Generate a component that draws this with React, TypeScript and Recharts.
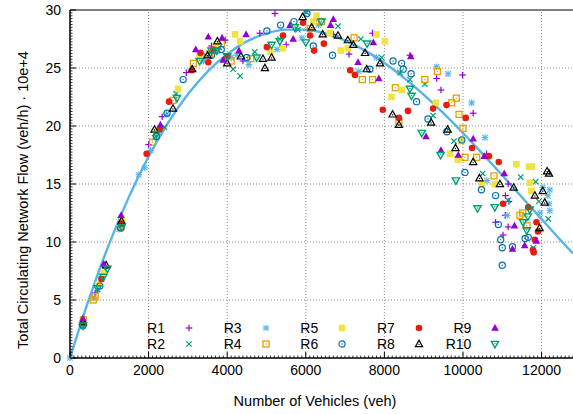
import { ComposedChart, Scatter, Line, XAxis, YAxis, ReferenceLine, Legend } from 'recharts';

type P = [number, number];

const xMajor = [0, 2000, 4000, 6000, 8000, 10000, 12000];
const yMajor = [0, 5, 10, 15, 20, 25, 30];
const xMinor = Array.from({ length: 129 }, (_, i) => i * 100);
const yMinor = Array.from({ length: 121 }, (_, i) => i * 0.25);

// number of vehicles -> flow (10e+4 veh/h)
const r1: P[] = [[330, 3.1], [640, 5.6], [820, 7.0], [1280, 11.5], [2000, 18.4], [2345, 20.8], [2960, 24.6], [3350, 25.8], [3600, 26.9], [3950, 27.4], [4400, 25.6], [4830, 28.0], [5215, 29.7], [5500, 27.0], [6280, 29.3], [6700, 27.9], [7100, 26.2], [7700, 28.0], [8650, 26.1], [9330, 24.1], [9440, 23.1], [9990, 24.4], [10260, 21.1], [10600, 17.6], [11080, 14.0], [11150, 15.0], [11170, 13.5], [10830, 11.7], [11080, 12.3], [11150, 11.3], [11020, 10.6]];
const r2: P[] = [[350, 2.9], [700, 5.9], [800, 6.8], [900, 7.6], [1320, 11.4], [2150, 19.0], [2400, 19.9], [2700, 22.8], [3450, 26.1], [3800, 26.8], [4150, 24.9], [4330, 24.3], [4700, 26.4], [5340, 27.5], [5800, 28.3], [6020, 29.8], [6820, 28.6], [7400, 27.5], [7930, 25.9], [8400, 24.6], [8650, 24.0], [9030, 23.6], [9240, 20.9], [9770, 18.7], [10500, 15.9], [11150, 13.6], [11470, 15.6], [11850, 15.2], [11930, 13.5], [12170, 12.0], [11790, 9.5]];
const r3: P[] = [[0, 0], [320, 2.7], [610, 5.2], [1250, 11.1], [1750, 15.8], [1900, 16.4], [2050, 17.9], [2460, 21.0], [3400, 25.6], [3750, 26.4], [4100, 25.9], [4250, 26.1], [4550, 25.3], [5270, 26.6], [5900, 27.6], [6320, 28.7], [7350, 24.7], [7800, 25.9], [9330, 25.1], [9620, 24.5], [10220, 22.0], [10560, 19.0], [10610, 15.3], [11120, 12.3], [11960, 12.5], [12030, 14.7], [12160, 14.0], [12210, 12.7], [12190, 13.3], [12210, 14.5]];
const r4: P[] = [[340, 3.3], [590, 5.0], [640, 5.3], [1300, 11.3], [2100, 18.6], [2620, 22.2], [3140, 25.4], [3550, 26.2], [3850, 27.1], [4100, 25.6], [4600, 25.8], [6110, 28.4], [6400, 29.0], [7230, 27.6], [7440, 24.0], [7700, 24.0], [8280, 23.3], [8370, 20.4], [9030, 24.0], [9350, 24.7], [9710, 22.0], [9830, 22.4], [9900, 21.0], [10000, 19.8], [10050, 17.3], [10350, 17.3], [10790, 15.7], [11450, 12.3], [11520, 12.5], [11630, 11.4]];
const r5: P[] = [[350, 3.0], [720, 6.3], [860, 7.3], [1330, 11.8], [2200, 19.6], [2750, 23.2], [3300, 25.9], [3700, 26.9], [4200, 27.9], [4330, 27.3], [5100, 26.4], [5420, 26.7], [6190, 29.0], [6275, 29.5], [6610, 28.0], [6890, 26.5], [7070, 26.7], [7800, 27.9], [8010, 27.3], [8180, 22.5], [8440, 23.1], [9310, 22.0], [9670, 17.6], [9870, 17.1], [9960, 18.7], [10480, 15.0], [10810, 15.0], [11360, 16.7], [11680, 16.5], [11760, 16.5], [11700, 15.1], [11740, 14.4]];
const r6: P[] = [[330, 2.8], [760, 6.2], [1290, 11.2], [2200, 19.1], [2470, 21.1], [2880, 24.0], [3600, 26.1], [3850, 26.6], [4500, 25.9], [5010, 28.2], [5360, 28.7], [5700, 29.0], [6030, 29.7], [6190, 26.9], [6680, 26.1], [7630, 24.9], [8220, 25.6], [8440, 25.4], [8480, 24.9], [8680, 24.5], [8820, 22.1], [9110, 20.6], [9590, 19.5], [9970, 18.8], [10050, 16.0], [10470, 14.5], [10830, 14.0], [10900, 11.5], [10960, 10.2], [11000, 9.5], [11000, 8.0], [11260, 9.6], [11580, 10.3], [11660, 10.4]];
const r7: P[] = [[335, 3.0], [800, 6.8], [1300, 11.6], [1950, 17.6], [2280, 19.7], [2520, 22.1], [3100, 24.8], [3320, 26.3], [3520, 25.5], [3650, 26.6], [4000, 26.0], [5010, 26.8], [5420, 27.8], [5930, 28.9], [6110, 27.8], [6210, 26.5], [6460, 27.1], [7130, 24.8], [7250, 24.4], [7960, 21.4], [8370, 20.7], [8600, 21.3], [9240, 21.5], [9580, 21.8], [10070, 20.7], [10230, 18.1], [10660, 17.4], [10910, 16.9], [11020, 13.3], [11660, 13.0], [11870, 11.7], [11910, 10.9], [11830, 10.2], [11800, 9.1], [11780, 9.3]];
const r8: P[] = [[330, 3.1], [920, 8.0], [1310, 11.8], [2150, 19.7], [2620, 21.5], [3110, 24.9], [3500, 26.1], [3750, 27.3], [4000, 25.4], [4350, 26.0], [4910, 25.8], [4960, 25.0], [5130, 25.9], [5920, 29.4], [6150, 28.5], [6430, 27.9], [6820, 27.8], [7070, 27.4], [7210, 27.0], [7510, 26.3], [7550, 24.9], [7890, 25.4], [8210, 21.0], [8370, 20.1], [9190, 20.3], [9610, 19.7], [9810, 18.1], [10260, 16.9], [10420, 15.5], [10940, 15.0], [11290, 14.7], [11830, 14.0], [12030, 14.4], [12080, 13.4], [12140, 16.1], [12190, 15.9], [11950, 11.2]];
const r9: P[] = [[330, 3.4], [860, 8.1], [1300, 12.3], [2300, 20.1], [3200, 26.6], [3520, 27.7], [3870, 27.6], [3900, 25.7], [4300, 26.5], [4480, 27.9], [5600, 28.7], [5680, 27.5], [6630, 28.7], [6700, 29.2], [7330, 25.5], [7720, 27.2], [7860, 24.1], [8670, 26.0], [9060, 19.1], [9440, 17.9], [9880, 17.5], [10260, 18.9], [10540, 17.4], [11050, 15.9], [11310, 11.4], [11870, 10.1], [11260, 9.4], [11570, 9.7]];
const r10: P[] = [[330, 2.8], [700, 6.0], [850, 7.0], [950, 7.7], [1320, 11.3], [2200, 19.3], [2720, 22.4], [3300, 25.6], [3600, 26.5], [3730, 26.5], [4000, 26.0], [4750, 25.9], [5130, 27.0], [5340, 27.3], [5720, 28.5], [6000, 27.2], [6400, 29.0], [7560, 27.1], [8650, 23.2], [8690, 22.6], [8950, 19.4], [9430, 17.5], [9820, 15.3], [10370, 12.9], [10810, 13.0], [11530, 11.7], [11620, 11.0], [11700, 12.8], [11650, 12.2]];

// fitted curve
const fitVeh = [0, 500, 1000, 1500, 2000, 2500, 3000, 3500, 4000, 4500, 5000, 5500, 6000, 6500, 7000, 7500, 8000, 8500, 9000, 9500, 10000, 10500, 11000, 11500, 12000, 12500, 12800];
const fitFlow = [0, 5.24, 9.86, 13.89, 17.36, 20.3, 22.73, 24.69, 26.2, 27.29, 27.98, 28.31, 28.3, 27.98, 27.37, 26.52, 25.44, 24.15, 22.7, 21.11, 19.4, 17.6, 15.75, 13.86, 11.97, 10.1, 9.01];

const series = [
  { name: 'R1', data: r1, color: '#9400D3', kind: 'plus' },
  { name: 'R2', data: r2, color: '#009E73', kind: 'cross' },
  { name: 'R3', data: r3, color: '#56B4E9', kind: 'star' },
  { name: 'R4', data: r4, color: '#E69F00', kind: 'sqOpen' },
  { name: 'R5', data: r5, color: '#F0E442', kind: 'sqFill' },
  { name: 'R6', data: r6, color: '#0072B2', kind: 'circOpen' },
  { name: 'R7', data: r7, color: '#E51E10', kind: 'circFill' },
  { name: 'R8', data: r8, color: '#000000', kind: 'triOpen' },
  { name: 'R9', data: r9, color: '#9400D3', kind: 'triFill' },
  { name: 'R10', data: r10, color: '#009E73', kind: 'triDown' },
];

const fit = fitVeh.map((x, i) => ({ x, y: fitFlow[i] }));
const FONT = '"Liberation Sans", Arial, sans-serif';

function Mark({ kind, color, cx, cy }: { kind: string; color: string; cx: number; cy: number }) {
  const s = 3.3;
  const d = 2.7;
  switch (kind) {
    case 'plus':
      return (
        <g stroke={color} strokeWidth={1.2}>
          <line x1={cx - s} x2={cx + s} y1={cy} y2={cy} />
          <line x1={cx} x2={cx} y1={cy - s} y2={cy + s} />
        </g>
      );
    case 'cross':
      return (
        <g stroke={color} strokeWidth={1.2}>
          <line x1={cx - d} x2={cx + d} y1={cy - d} y2={cy + d} />
          <line x1={cx - d} x2={cx + d} y1={cy + d} y2={cy - d} />
        </g>
      );
    case 'star':
      return (
        <g stroke={color} strokeWidth={1.1}>
          <line x1={cx - s} x2={cx + s} y1={cy} y2={cy} />
          <line x1={cx} x2={cx} y1={cy - s} y2={cy + s} />
          <line x1={cx - d} x2={cx + d} y1={cy - d} y2={cy + d} />
          <line x1={cx - d} x2={cx + d} y1={cy + d} y2={cy - d} />
        </g>
      );
    case 'sqOpen':
      return (
        <g>
          <rect x={cx - 3} y={cy - 3} width={6} height={6} fill="none" stroke={color} strokeWidth={1.3} />
          <rect x={cx - 0.6} y={cy - 0.6} width={1.2} height={1.2} fill={color} />
        </g>
      );
    case 'sqFill':
      return <rect x={cx - 3.3} y={cy - 3.3} width={6.6} height={6.6} fill={color} />;
    case 'circOpen':
      return (
        <g>
          <circle cx={cx} cy={cy} r={3.1} fill="none" stroke={color} strokeWidth={1.2} />
          <circle cx={cx} cy={cy} r={0.7} fill={color} />
        </g>
      );
    case 'circFill':
      return <circle cx={cx} cy={cy} r={3.3} fill={color} />;
    case 'triOpen':
      return (
        <g>
          <polygon points={`${cx},${cy - 3.8} ${cx - 3.6},${cy + 2.6} ${cx + 3.6},${cy + 2.6}`} fill="none" stroke={color} strokeWidth={1.2} />
          <circle cx={cx} cy={cy + 0.4} r={0.7} fill={color} />
        </g>
      );
    case 'triFill':
      return <polygon points={`${cx},${cy - 4} ${cx - 3.8},${cy + 2.8} ${cx + 3.8},${cy + 2.8}`} fill={color} />;
    default:
      return (
        <g>
          <polygon points={`${cx},${cy + 3.8} ${cx - 3.6},${cy - 2.6} ${cx + 3.6},${cy - 2.6}`} fill="none" stroke={color} strokeWidth={1.4} />
          <circle cx={cx} cy={cy - 0.4} r={0.7} fill={color} />
        </g>
      );
  }
}

function XTick(props: any) {
  const { x, y, payload } = props;
  const major = payload.value % 2000 === 0;
  return (
    <g>
      <line x1={x} x2={x} y1={y} y2={y - (major ? 6 : 2.5)} stroke="#000" strokeWidth={major ? 1 : 0.8} />
      {major && (
        <text x={x} y={y + 17} textAnchor="middle" fontSize={14} fill="#000" fontFamily={FONT}>
          {payload.value}
        </text>
      )}
    </g>
  );
}

function YTick(props: any) {
  const { x, y, payload } = props;
  const major = payload.value % 5 === 0;
  return (
    <g>
      <line x1={x} x2={x + (major ? 6 : 2.5)} y1={y} y2={y} stroke="#000" strokeWidth={major ? 1 : 0.8} />
      {major && (
        <text x={x - 9} y={y + 5} textAnchor="end" fontSize={14} fill="#000" fontFamily={FONT}>
          {payload.value}
        </text>
      )}
    </g>
  );
}

function LegendBox() {
  return (
    <div style={{ position: 'relative', width: 573, height: 414, fontFamily: FONT, fontSize: 14, color: '#000' }}>
      {series.map((s, i) => {
        const col = Math.floor(i / 2);
        const end = 165 + col * 76.6;
        const cy = i % 2 ? 344 : 328;
        return (
          <div key={s.name}>
            <span style={{ position: 'absolute', left: end - 50, width: 50, top: cy - 9, lineHeight: '18px', textAlign: 'right' }}>
              {s.name}
            </span>
            <svg style={{ position: 'absolute', left: end + 18, top: cy - 6 }} width={12} height={12}>
              <Mark kind={s.kind} color={s.color} cx={6} cy={6} />
            </svg>
          </div>
        );
      })}
    </div>
  );
}

export default function App() {
  return (
    <div style={{ position: 'absolute', left: 0, top: 0, width: 573, height: 414, background: '#fff', overflow: 'hidden' }}>
      <ComposedChart width={573} height={414} margin={{ top: 10, right: 0, bottom: 0, left: 0 }}>
        {xMajor.slice(1).map((v) => (
          <ReferenceLine key={'gx' + v} x={v} stroke="#888" strokeDasharray="1 2" />
        ))}
        {yMajor.slice(1, -1).map((v) => (
          <ReferenceLine key={'gy' + v} y={v} stroke="#888" strokeDasharray="1 2" />
        ))}
        <ReferenceLine y={30} stroke="#000" strokeWidth={1.2} />
        <XAxis
          dataKey="x"
          type="number"
          domain={[0, 12800]}
          ticks={xMinor}
          interval={0}
          tickSize={0}
          tickMargin={0}
          tickLine={false}
          axisLine={{ stroke: '#000', strokeWidth: 1.5 }}
          height={56}
          tick={(p: any) => <XTick {...p} />}
          label={() => (
            <text x={315} y={406} textAnchor="middle" fontSize={14.5} fill="#000" fontFamily={FONT}>
              Number of Vehicles (veh)
            </text>
          )}
        />
        <YAxis
          dataKey="y"
          type="number"
          domain={[0, 30]}
          ticks={yMinor}
          interval={0}
          tickSize={0}
          tickMargin={0}
          tickLine={false}
          axisLine={{ stroke: '#000', strokeWidth: 1.5 }}
          width={70}
          tick={(p: any) => <YTick {...p} />}
          label={() => (
            <text x={28} y={200} transform="rotate(-90 28 200)" textAnchor="middle" fontSize={14.5} fill="#000" fontFamily={FONT}>
              Total Circulating Network Flow (veh/h) · 10e+4
            </text>
          )}
        />
        {series.map((s) => (
          <Scatter
            key={s.name}
            name={s.name}
            data={s.data.map(([x, y]) => ({ x, y }))}
            isAnimationActive={false}
            shape={(p: any) => <Mark kind={s.kind} color={s.color} cx={p.cx} cy={p.cy} />}
          />
        ))}
        <Line
          data={fit}
          dataKey="y"
          type="monotone"
          stroke="#56B4E9"
          strokeWidth={2.4}
          dot={false}
          activeDot={false}
          isAnimationActive={false}
        />
        <Legend
          layout="horizontal"
          verticalAlign="middle"
          align="center"
          wrapperStyle={{ left: 0, top: 0, width: 573, height: 414, pointerEvents: 'none' }}
          content={() => <LegendBox />}
        />
      </ComposedChart>
    </div>
  );
}
